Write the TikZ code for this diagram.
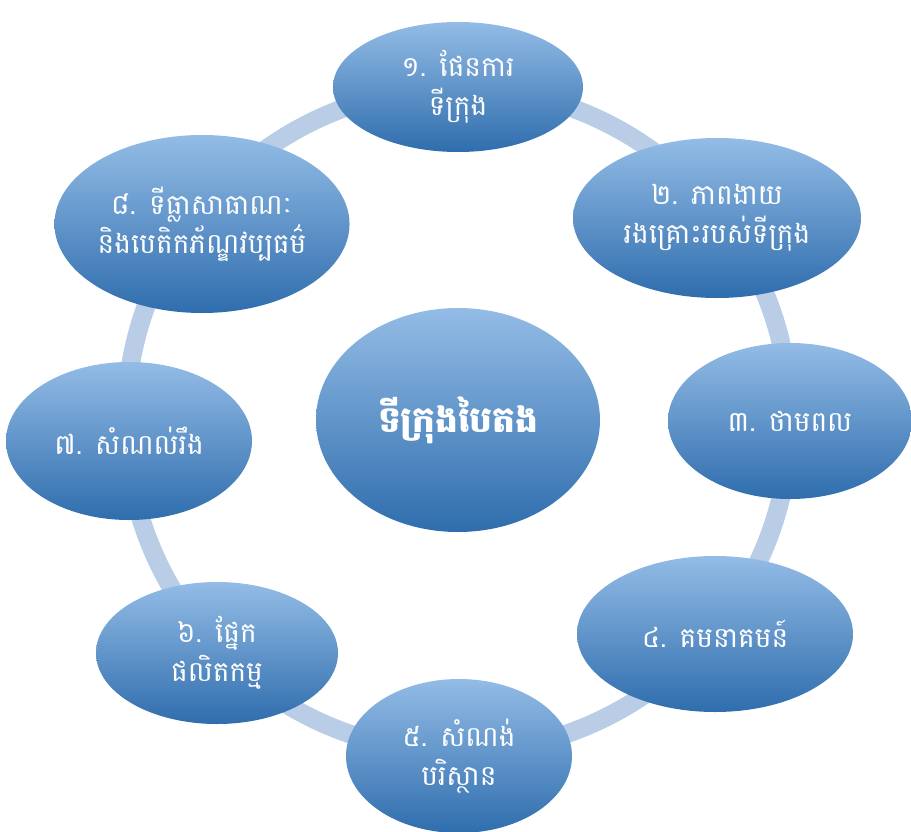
\documentclass[tikz,border=0pt]{standalone}
\usepackage{fontspec}
\newfontfamily\khmer[Script=Khmer]{Battambang}
\usetikzlibrary{shapes.geometric}
\definecolor{ringc}{HTML}{B9CDE6}
\definecolor{topc}{HTML}{93BCE6}
\definecolor{botc}{HTML}{2F6DAD}
\tikzset{
  bub/.style 2 args={ellipse, inner sep=0pt, minimum width=#1*1.5pt, minimum height=#2*1.5pt,
    top color=topc, bottom color=botc, middle color=topc!50!botc, shading=axis,
    text=white, align=center, font=\khmer\fontsize{21}{29}\selectfont},
  ring/.style={draw=ringc, line width=14pt}
}
\begin{document}
\begin{tikzpicture}[x=0.75pt, y=-0.75pt]
\useasboundingbox (0,0) rectangle (911,832);
\coordinate (c) at (458,420);
\draw[ring] (c) circle [radius=249pt];
\node[bub={125}{65}] (n1) at (458,87) {១. ផែនការ\\ទីក្រុង};
\node[bub={144}{80}] (n2) at (717,218) {២. ភាពងាយ\\រងគ្រោះរបស់ទីក្រុង};
\node[bub={122}{78}] (n3) at (790,421) {៣. ថាមពល};
\node[bub={138}{78}] (n4) at (715,634) {៤. គមនាគមន៍};
\node[bub={113}{77}] (n5) at (459,756) {៥. សំណង់\\បរិស្ថាន};
\node[bub={121}{71}] (n6) at (217,653) {៦. ផ្នែក\\ផលិតកម្ម};
\node[bub={123}{79}] (n7) at (129,441) {៧. សំណល់រឹង};
\node[bub={144}{89}] (n8) at (202,224) {៨. ទីធ្លាសាធាណៈ\\និងបេតិកភ័ណ្ឌវប្បធម៌};
\node[bub={142}{112}, font=\khmer\bfseries\fontsize{27}{30}\selectfont] (ctr) at (c) {ទីក្រុងបៃតង};
\end{tikzpicture}
\end{document}
